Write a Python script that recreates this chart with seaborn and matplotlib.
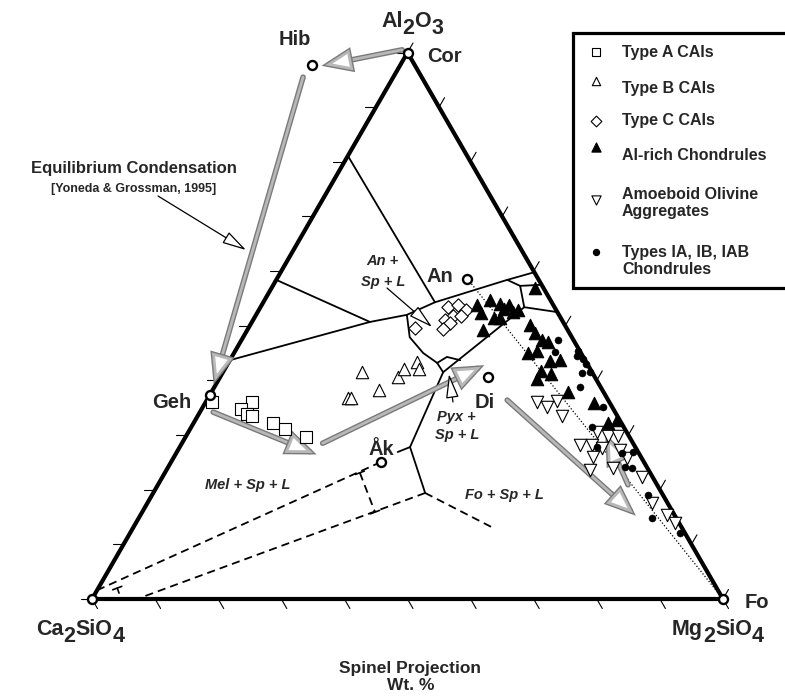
import numpy as np
import matplotlib
matplotlib.use("Agg")
import matplotlib.pyplot as plt
import seaborn as sns
from matplotlib.patches import Rectangle
from matplotlib import patheffects as pe
from matplotlib.transforms import IdentityTransform

# ---------------------------------------------------------------------------
# Compositions in wt%: Al2O3 and Mg2SiO4 (Ca2SiO4 is the balance),
# spinel-projected.
# ---------------------------------------------------------------------------
type_a_al = [36.0, 36.0, 34.8, 33.9, 33.5, 32.2, 31.1, 29.6]
type_a_mg = [1.0, 7.3, 6.2, 7.6, 8.6, 12.6, 15.0, 19.1]

type_b_al = [41.5, 38.2, 36.8, 36.8, 40.6, 42.1, 43.4, 42.1]
type_b_mg = [22.0, 26.4, 22.2, 22.7, 28.2, 28.4, 29.8, 30.8]

type_c_al = [53.4, 53.8, 52.9, 51.8, 51.8, 51.1, 50.5, 49.4, 49.6]
type_c_mg = [29.7, 31.1, 32.8, 31.3, 32.6, 30.4, 31.5, 30.9, 26.4]

al_rich_al = [53.8, 52.3, 49.2, 54.7, 51.4, 54.0, 53.1, 53.8, 52.5, 52.9,
              51.4, 56.9, 50.1, 48.7, 47.4, 47.0, 45.0, 45.4, 43.6, 43.7,
              41.7, 41.2, 40.3, 37.9, 35.9, 32.2, 32.8]
al_rich_mg = [34.1, 35.5, 37.4, 35.7, 38.0, 37.7, 38.8, 39.2, 40.5, 41.1,
              39.0, 41.8, 44.3, 45.9, 47.6, 48.8, 46.6, 47.8, 50.8, 52.3,
              50.3, 52.2, 50.4, 56.5, 61.6, 65.7, 66.8]

aoa_al = [36.0, 35.1, 36.2, 33.5, 28.2, 28.2, 30.6, 29.8, 29.8, 27.6,
          27.3, 26.0, 24.0, 23.6, 25.8, 22.3, 17.6, 15.4, 13.9]
aoa_mg = [52.5, 54.5, 55.6, 57.7, 63.2, 65.2, 64.8, 66.9, 68.4, 67.0,
          70.0, 66.4, 70.6, 67.1, 71.9, 76.0, 80.0, 83.4, 85.4]

type_i_al = [47.4, 45.2, 44.5, 45.4, 43.9, 43.0, 41.4, 41.5, 38.8, 35.1,
             31.5, 27.8, 26.7, 26.9, 24.2, 24.0, 19.0, 14.8, 12.1]
type_i_mg = [50.2, 50.8, 54.6, 54.3, 55.8, 56.8, 57.0, 58.2, 57.9, 63.4,
             63.5, 66.1, 70.6, 72.3, 72.4, 73.6, 78.6, 81.3, 87.2]

# reference phases
phase_names = ["Cor", "Hib", "Geh", "An", "Di", "Åk", "Ca2SiO4", "Fo"]
phase_al = [100.0, 97.7, 37.3, 58.6, 40.6, 25.1, 0.0, 0.0]
phase_mg = [0.0, -14.0, 0.0, 30.2, 42.5, 33.3, 0.0, 100.0]

# liquidus field boundaries (Al2O3, Mg2SiO4)
bound_main = [(43.7, 0.0), (50.7, 18.7), (52.0, 23.9), (54.3, 27.2), (58.4, 36.6), (59.8, 40.2)]
bound_geh = [(58.4, 0.0), (50.7, 18.7)]
bound_cor = [(81.1, 0.0), (54.3, 27.2)]
bound_sp_an = [(52.0, 23.9), (47.9, 26.4), (45.0, 30.0), (43.2, 33.1), (41.5, 34.9)]
bound_pyx = [(43.2, 33.1), (44.3, 34.1), (43.7, 36.5)]
bound_an_fo = [(41.5, 34.9), (53.4, 41.8)]
bound_edge_a = [(53.4, 41.8), (52.5, 47.5)]
bound_an_b = [(58.4, 36.6), (57.3, 39.2), (53.4, 41.8)]
bound_edge_b = [(57.3, 39.2), (57.5, 42.5)]
bound_mel = [(41.5, 34.9), (27.8, 36.5), (19.4, 43.1)]
bound_ak_tail = [(27.8, 36.5), (26.9, 35.0)]
solid_bounds = [bound_main, bound_geh, bound_cor, bound_sp_an, bound_pyx, bound_an_fo,
                bound_edge_a, bound_an_b, bound_edge_b, bound_mel, bound_ak_tail]

dash_fo = [(19.4, 43.1), (13.0, 57.1)]
dash_lower = [(19.4, 43.1), (0.2, 7.5)]
dash_upper = [(1.6, 0.0), (25.1, 33.3)]
dash_bracket = [(23.1, 30.9), (15.9, 36.9)]
dashed_bounds = [dash_fo, dash_lower, dash_upper, dash_bracket]

an_fo_join = [(58.6, 30.2), (0.0, 100.0)]

# equilibrium condensation path (start, end)
condensation_path = [((100.5, -1.1), (97.7, -11.9)),
                     ((95.5, -14.3), (39.9, -0.5)),
                     ((34.2, 2.1), (26.7, 21.7)),
                     ((28.5, 22.3), (42.5, 40.4)),
                     ((36.4, 47.6), (15.7, 77.9)),
                     ((20.9, 74.5), (29.6, 66.8))]

legend_labels = ["Type A CAIs", "Type B CAIs", "Type C CAIs", "Al-rich Chondrules",
                 "Amoeboid Olivine\nAggregates", "Types IA, IB, IAB\nChondrules"]

# ---------------------------------------------------------------------------
sns.set_style("white")
plt.rcParams["font.family"] = ["Liberation Sans", "DejaVu Sans"]

W_PX, H_PX = 785, 696
fig = plt.figure(figsize=(W_PX / 100, H_PX / 100), dpi=100)
ax = fig.add_axes([0, 0, 1, 1])

X0, Y0, SIDE = 92.0, 599.0, 631.0
HGT = SIDE * np.sqrt(3) / 2


def tern(al, mg):
    al = np.asarray(al, float) / 100.0
    mg = np.asarray(mg, float) / 100.0
    return X0 + SIDE * (mg + al / 2.0), Y0 - HGT * al


def tern_pts(pts):
    a, m = zip(*pts)
    return tern(a, m)


# triangle frame
fx, fy = tern([0, 0, 100, 0], [0, 100, 0, 0])
ax.plot(fx, fy, color="black", lw=3.0, solid_joinstyle="miter", zorder=3)

# 10 % ticks along each side
TL = 11.0
for k in range(11):
    f = k * 10.0
    bx, by = tern(0, f)
    ax.plot([bx, bx + 0.5 * TL], [by, by + 0.866 * TL], color="black", lw=0.8, zorder=3)
    lx, ly = tern(f, 0)
    ax.plot([lx - TL, lx], [ly, ly], color="black", lw=0.8, zorder=3)
    rx, ry = tern(f, 100 - f)
    ax.plot([rx, rx + 0.5 * TL], [ry, ry - 0.866 * TL], color="black", lw=0.8, zorder=3)

# field boundaries
for seg in solid_bounds:
    x, y = tern_pts(seg)
    ax.plot(x, y, color="black", lw=1.3, solid_joinstyle="round", zorder=2)
for seg in dashed_bounds:
    x, y = tern_pts(seg)
    ax.plot(x, y, color="black", lw=1.3, dashes=(4.5, 2.8), zorder=2)

# bracket end caps
for (a, m) in [dash_bracket[0], dash_bracket[1]]:
    cx, cy = tern(a, m)
    ax.plot([cx - 4.5, cx + 4.5], [cy + 1.7, cy - 1.7], color="black", lw=1.2, zorder=2)
cx, cy = tern(2.0, 3.0)
ax.plot([cx - 4.5, cx + 4.5], [cy + 1.7, cy - 1.7], color="black", lw=1.2, zorder=2)
ax.plot([cx, cx + 1.8], [cy, cy + 5], color="black", lw=1.2, zorder=2)

x, y = tern_pts(an_fo_join)
ax.plot(x, y, color="black", lw=0.9, linestyle=(0, (1, 1.6)), zorder=2)

# condensation path arrows
for (p0, p1) in condensation_path:
    x0, y0 = tern(*p0)
    x1, y1 = tern(*p1)
    ax.annotate("", xy=(float(x1), float(y1)), xytext=(float(x0), float(y0)),
                arrowprops=dict(arrowstyle="-|>,head_length=1.55,head_width=0.62",
                                mutation_scale=10, lw=2.0, ec="#b8b8b8", fc="white",
                                shrinkA=0, shrinkB=0, joinstyle="miter",
                                path_effects=[pe.Stroke(linewidth=4.0, foreground="#7a7a7a"),
                                              pe.Normal()]),
                zorder=4)


def series(al, mg, marker, size, filled, lw=0.8, z=6):
    x, y = tern(al, mg)
    sns.scatterplot(x=x, y=y, marker=marker, s=size,
                    color="black" if filled else "white", edgecolor="black",
                    linewidth=lw, ax=ax, zorder=z, legend=False)


series(type_a_al, type_a_mg, "s", 64, False)
series(type_b_al, type_b_mg, "^", 80, False)
series(type_c_al, type_c_mg, "D", 46, False)
series(aoa_al, aoa_mg, "v", 80, False)
series(al_rich_al, al_rich_mg, "^", 80, True)
series(type_i_al, type_i_mg, "o", 26, True, lw=0.3)

# reference phase points
px_, py_ = tern(phase_al, phase_mg)
ax.scatter(px_, py_, s=42, facecolor="white", edgecolor="black", linewidths=1.7, zorder=8)

# phase labels
LAB = dict(fontsize=14.5, fontweight="bold", zorder=9)
ax.text(295, 45, "Hib", ha="center", va="baseline", **LAB)
ax.text(427, 62, "Cor", ha="left", va="baseline", **LAB)
ax.text(440, 282, "An", ha="center", va="baseline", **LAB)
ax.text(172, 408, "Geh", ha="center", va="baseline", **LAB)
ax.text(485, 408, "Di", ha="center", va="baseline", **LAB)
ax.text(381, 455, "Åk", ha="center", va="baseline", **LAB)
ax.text(745, 608, "Fo", ha="left", va="baseline", **LAB)

# field labels
FLD = dict(fontsize=10.5, fontweight="bold", style="italic", ha="center", va="center", zorder=9)
ax.text(382, 261, "An +", **FLD)
ax.text(383, 282, "Sp + L", **FLD)
ax.text(456, 417, "Pyx +", **FLD)
ax.text(457, 435, "Sp + L", **FLD)
ax.text(248, 485, "Mel + Sp + L", **FLD)
ax.text(504, 495, "Fo + Sp + L", **FLD)

# pointer arrows
PTR = dict(arrowstyle="-|>,head_length=1.5,head_width=0.4", mutation_scale=10,
           lw=0.9, ec="black", fc="white", shrinkA=0, shrinkB=0)
ax.annotate("", xy=(246, 250), xytext=(158, 196), arrowprops=PTR, zorder=9)
ax.annotate("", xy=(432, 327), xytext=(387, 288), arrowprops=PTR, zorder=9)
ax.annotate("", xy=(449, 374), xytext=(453, 402), arrowprops=PTR, zorder=9)

ax.text(134, 169, "Equilibrium Condensation", fontsize=12, fontweight="bold",
        ha="center", va="center")
ax.text(134, 189, "[Yoneda & Grossman, 1995]", fontsize=9, fontweight="bold",
        ha="center", va="center")

ax.text(410, 673, "Spinel Projection", fontsize=12.5, fontweight="bold",
        ha="center", va="baseline")
ax.text(411, 690, "Wt. %", fontsize=12.5, fontweight="bold", ha="center", va="baseline")

# legend box
ax.add_patch(Rectangle((573, 33), 240, 255, facecolor="white", edgecolor="black",
                       lw=2.3, zorder=10, clip_on=False))
leg_marks = [("s", 34, False, 52), ("^", 36, False, 81), ("D", 30, False, 121),
             ("^", 44, True, 147), ("v", 44, False, 200), ("o", 20, True, 252)]
leg_text_y = [52, 88, 121, 155, 203, 261]
for (mk, sz, filled, yy), lab, ty in zip(leg_marks, legend_labels, leg_text_y):
    ax.scatter([596], [yy], marker=mk, s=sz, facecolor="black" if filled else "white",
               edgecolor="black", linewidths=0.8, zorder=11)
    ax.text(622, ty, lab, fontsize=11.5, fontweight="bold", ha="left", va="center",
            linespacing=1.15, zorder=11)

ax.set_xlim(0, W_PX)
ax.set_ylim(H_PX, 0)
ax.set_axis_off()


# chemical formulae with full-size lowered digits
def formula(xc, y_base, parts, size):
    r = fig.canvas.get_renderer()
    items = []
    for s, sub in parts:
        t = ax.text(0, 0, s, fontsize=size, fontweight="bold", ha="left",
                    va="baseline", transform=IdentityTransform(), zorder=9)
        items.append((t, t.get_window_extent(r).width, sub))
    total = sum(w for _, w, _ in items)
    X, Y = ax.transData.transform((xc, y_base))
    cur = X - total / 2
    for t, w, sub in items:
        t.set_position((cur, Y - (6.5 if sub else 0)))
        cur += w


formula(412, 27, [("Al", 0), ("2", 1), ("O", 0), ("3", 1)], 15.5)
formula(80, 635, [("Ca", 0), ("2", 1), ("SiO", 0), ("4", 1)], 15.5)
formula(718, 635, [("Mg", 0), ("2", 1), ("SiO", 0), ("4", 1)], 15.5)

fig.savefig("out.png", dpi=100)
